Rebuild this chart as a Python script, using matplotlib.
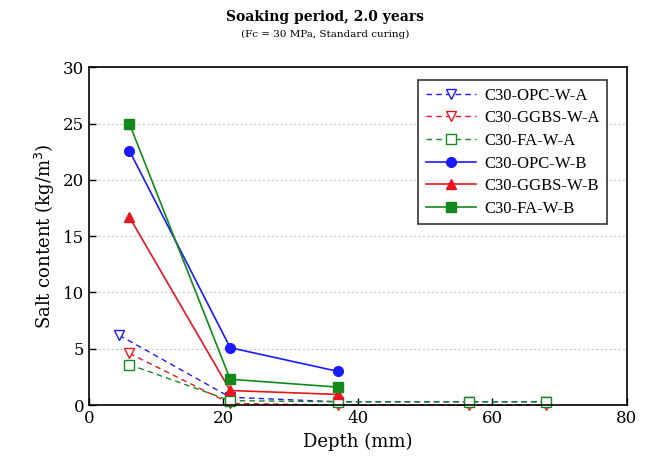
import matplotlib.pyplot as plt

# depth (mm) and salt content (kg/m3) per mix
depth_opc_a = [4.5, 21, 37, 56.5, 68]
depth_a = [6, 21, 37, 56.5, 68]
depth_b = [6, 21, 37]

opc_a = [6.2, 0.7, 0.3, 0.3, 0.3]
ggbs_a = [4.6, 0.15, 0.0, 0.0, 0.0]
fa_a = [3.6, 0.4, 0.3, 0.3, 0.3]

opc_b = [22.6, 5.1, 3.0]
ggbs_b = [16.7, 1.3, 0.95]
fa_b = [25.0, 2.3, 1.6]

BLUE = "#1a1aff"
RED = "#e8141e"
GREEN = "#12891a"
DASH = (0, (4, 3))

fig = plt.figure(figsize=(6.51, 4.70), dpi=100)
ax = fig.add_axes([0.1367, 0.138, 0.8263, 0.719])

ax.plot(depth_opc_a, opc_a, ls=DASH, color=BLUE, lw=1, marker="v", ms=7, mfc="white", mec=BLUE,
        label="C30-OPC-W-A", clip_on=False)
ax.plot(depth_a, ggbs_a, ls=DASH, color=RED, lw=1, marker="v", ms=7, mfc="white", mec=RED,
        label="C30-GGBS-W-A", clip_on=False)
ax.plot(depth_a, fa_a, ls=DASH, color=GREEN, lw=1, marker="s", ms=6.5, mfc="white", mec=GREEN,
        label="C30-FA-W-A", clip_on=False)
ax.plot(depth_b, opc_b, "-", color=BLUE, lw=1.2, marker="o", ms=7, label="C30-OPC-W-B")
ax.plot(depth_b, ggbs_b, "-", color=RED, lw=1.2, marker="^", ms=7, label="C30-GGBS-W-B")
ax.plot(depth_b, fa_b, "-", color=GREEN, lw=1.2, marker="s", ms=6.5, label="C30-FA-W-B")

ax.set_xlim(0, 80)
ax.set_ylim(0, 30)
ax.set_xticks([0, 20, 40, 60, 80])
ax.set_yticks(range(0, 31, 5))
ax.tick_params(direction="in", length=5, width=1, labelsize=12)
for lab in ax.get_xticklabels() + ax.get_yticklabels():
    lab.set_family("DejaVu Serif")
ax.yaxis.grid(True, linestyle=(0, (2, 2)), color="#c8c8c8", lw=0.8)
ax.set_axisbelow(True)
for s in ax.spines.values():
    s.set_linewidth(1.2)

ax.set_xlabel("Depth (mm)", family="DejaVu Serif", fontsize=13)
ax.set_ylabel("Salt content (kg/m$^3$)", family="DejaVu Serif", fontsize=13)

leg = ax.legend(loc="upper right", bbox_to_anchor=(0.963, 0.962), prop={"family": "Liberation Serif", "size": 12},
                frameon=True, fancybox=False, edgecolor="black", handlelength=3, labelspacing=0.4,
                borderpad=0.45, handletextpad=0.5, borderaxespad=0)
leg.get_frame().set_linewidth(1.2)

fig.text(0.5, 0.963, "Soaking period, 2.0 years", ha="center", va="center", family="DejaVu Serif",
         fontweight="bold", fontsize=10)
fig.text(0.5, 0.926, "(Fc = 30 MPa, Standard curing)", ha="center", va="center", family="DejaVu Serif",
         fontsize=7.5)

fig.savefig("out.png", dpi=100)
